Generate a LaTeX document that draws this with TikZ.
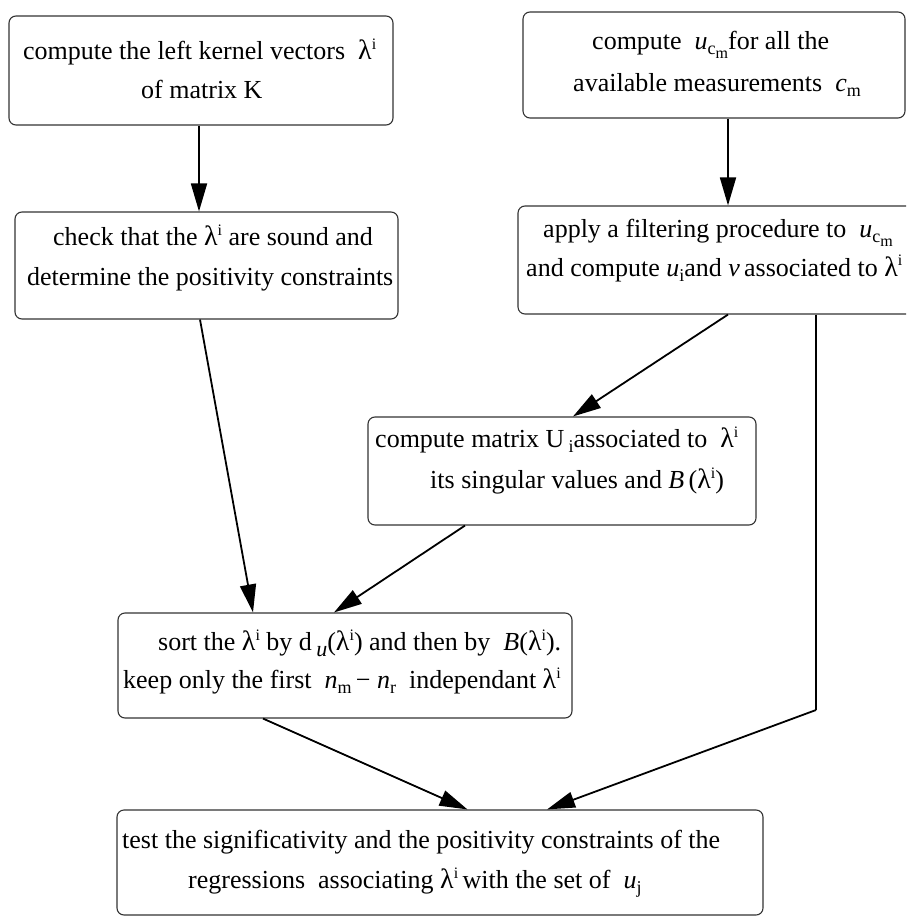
\documentclass[tikz,border=0pt]{standalone}
\usepackage{fontspec}
\setmainfont{Liberation Serif}
\usetikzlibrary{arrows.meta}
\newcommand{\Sb}[1]{\raisebox{-5pt}{\fontsize{18}{18}\selectfont #1}}
\newcommand{\Sbb}[1]{\raisebox{-4pt}{\fontsize{16}{16}\selectfont #1}}
\newcommand{\Sp}[1]{\raisebox{10pt}{\fontsize{16}{16}\selectfont #1}}
\newcommand{\lami}{{\fontsize{28}{30}\selectfont λ}\Sp{i}}
\begin{document}
\begin{tikzpicture}[x=1pt,y=-1pt,
  box/.style={draw=black!80, line width=1.1pt, rounded corners=7pt, inner sep=0pt},
  txt/.style={anchor=base west, inner sep=0pt, font=\fontsize{26}{30}\selectfont},
  conn/.style={line width=1.8pt, -{Triangle[length=28pt,width=16pt]}},
  seg/.style={line width=1.8pt}]
\useasboundingbox (0,0) rectangle (906,917);
\clip (0,0) rectangle (906,917);
% boxes
\node[box, minimum width=384pt, minimum height=109pt] (b1) at (201,70.5) {};
\node[box, minimum width=382pt, minimum height=106pt] (b2) at (714,65) {};
\node[box, minimum width=383pt, minimum height=107pt] (b3) at (206.5,265.5) {};
\node[box, minimum width=412pt, minimum height=108pt] (b4) at (724,260) {};
\node[box, minimum width=388pt, minimum height=108pt] (b5) at (562,471) {};
\node[box, minimum width=454pt, minimum height=105pt] (b6) at (345,665.5) {};
\node[box, minimum width=646pt, minimum height=105pt] (b7) at (440,862.5) {};
% texts
\node[txt] (t1a) at (23,60) {compute the left kernel vectors ~\lami};
\node[txt] (t1b) at (141,99) {of matrix K};
\node[txt] (t2a) at (592,50) {compute ~\textit{u}\Sb{c\Sbb{m}}for all the};
\node[txt] (t2b) at (573,92) {available measurements ~\textit{c}\Sb{m}};
\node[txt] (t3a) at (53,245) {check that the \lami{} are sound and};
\node[txt] (t3b) at (27,285) {determine the positivity constraints};
\node[txt] (t4a) at (543,237) {apply a filtering procedure to ~\textit{u}\Sb{c\Sbb{m}}};
\node[txt] (t4b) at (526,276) {and compute \textit{u}\Sb{i}and \textit{v}\,associated to \lami};
\node[txt] (t5a) at (375,447) {compute matrix U\,\Sb{i}associated to ~\lami};
\node[txt] (t5b) at (430,488) {its singular values and \textit{B}\,(\lami)};
\node[txt] (t6a) at (158,650) {sort the \lami{} by d\,\raisebox{-6pt}{\fontsize{22}{22}\selectfont\textit{u}}(\lami) and then by ~\textit{B}(\lami).};
\node[txt] (t6b) at (123,688) {keep only the first ~\textit{n}\Sb{m}\,− \textit{n}\Sb{r} ~independant \lami};
\node[txt] (t7a) at (122,848) {test the significativity and the positivity constraints of the};
\node[txt] (t7b) at (188,888) {regressions ~associating \lami\,with the set of ~\textit{u}\Sb{j}};
% connectors
\draw[conn] ([xshift=-2pt]b1.south) -- ([xshift=-2pt]b1.south |- b3.north);
\draw[conn] ([xshift=14pt]b2.south) -- ([xshift=14pt]b2.south |- b4.north);
\draw[conn] ([xshift=4pt]b4.south) -- ([xshift=11pt]b5.north);
\draw[conn] ([xshift=-6.5pt]b3.south) -- ([xshift=-92pt]b6.north);
\draw[conn] ([xshift=-97pt]b5.south) -- ([xshift=-11pt]b6.north);
\draw[conn] ([xshift=-82pt]b6.south) -- ([xshift=27.5pt]b7.north);
\coordinate (k) at (816,710);
\draw[seg] ([xshift=92pt]b4.south) -- (k);
\draw[conn] (k) -- ([xshift=107pt]b7.north);
\end{tikzpicture}
\end{document}
